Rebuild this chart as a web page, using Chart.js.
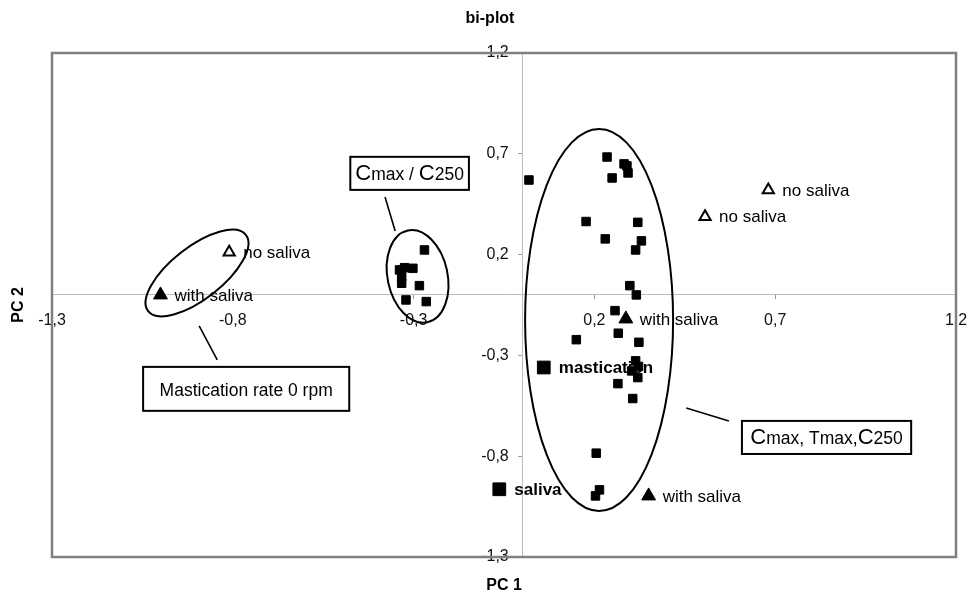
<!DOCTYPE html>
<html>
<head>
<meta charset="utf-8">
<title>bi-plot</title>
<script src="https://cdn.jsdelivr.net/npm/chart.js@4.4.1/dist/chart.umd.min.js"></script>
<style>
  html, body { margin: 0; padding: 0; background: #fff; }
  #wrap { position: relative; width: 969px; height: 596px; }
</style>
</head>
<body>
<div id="wrap"><canvas id="biplot"></canvas></div>
<script>
// PCA scores of the individual runs (PC 1, PC 2)
const scoresPC1 = [
  0.019, 0.235, 0.282, 0.290, 0.293, 0.249, 0.177, 0.320, 0.230, 0.330,
  0.314, 0.298, 0.316, 0.257, 0.150, 0.266, 0.323, 0.314, 0.303, 0.320,
  0.322, 0.265, 0.306, 0.205, 0.214, 0.203,
  -0.270, -0.339, -0.325, -0.302, -0.333, -0.333, -0.284, -0.321, -0.265
];
const scoresPC2 = [
  0.570, 0.684, 0.650, 0.640, 0.605, 0.580, 0.364, 0.360, 0.278, 0.268,
  0.223, 0.046, 0.000, -0.078, -0.222, -0.190, -0.235, -0.327, -0.377, -0.410,
  -0.355, -0.440, -0.514, -0.785, -0.967, -0.997,
  0.223, 0.124, 0.135, 0.132, 0.091, 0.058, 0.046, -0.025, -0.033
];

// runs with saliva (filled triangles)
const withSalivaPC1 = [-1.000, 0.287, 0.350];
const withSalivaPC2 = [0.000, -0.119, -0.997];
const withSalivaLabels = ['with saliva', 'with saliva', 'with saliva'];

// runs without saliva (open triangles)
const noSalivaPC1 = [-0.810, 0.506, 0.681];
const noSalivaPC2 = [0.212, 0.388, 0.521];
const noSalivaLabels = ['no saliva', 'no saliva', 'no saliva'];

// loadings of the process variables
const variableNames = ['mastication', 'saliva'];
const variablePC1 = [0.060, -0.063];
const variablePC2 = [-0.360, -0.964];

// axis ticks
const axisMin = -1.3;
const axisMax = 1.2;
const tickStep = 0.5;

const FONT = '"Liberation Sans", Arial, Helvetica, sans-serif';

const pairs = (xs, ys) => xs.map((v, i) => ({ x: v, y: ys[i] }));
const commaDecimal = v => Number(v).toFixed(1).replace('.', ',');

// group outlines: centre in data units, radii in pixels, rotation in degrees
const groupOutlines = [
  { cx: -0.899, cy: 0.109, rx: 62, ry: 26, rot: -38 },
  { cx: -0.289, cy: 0.092, rx: 30, ry: 47, rot: -12 },
  { cx: 0.213, cy: -0.124, rx: 74, ry: 191, rot: 0 }
];

// callout boxes (data units) with their leader lines
const callouts = [
  {
    x1: -1.048, x2: -0.478, y1: -0.357, y2: -0.575,
    line: [-0.893, -0.154, -0.843, -0.322],
    parts: [{ text: 'Mastication rate 0 rpm', size: 17.5 }]
  },
  {
    x1: -0.475, x2: -0.147, y1: 0.685, y2: 0.521,
    line: [-0.379, 0.486, -0.351, 0.317],
    parts: [
      { text: 'C', size: 22 }, { text: 'max / ', size: 17.5 },
      { text: 'C', size: 22 }, { text: '250', size: 17.5 }
    ]
  },
  {
    x1: 0.608, x2: 1.076, y1: -0.625, y2: -0.789,
    line: [0.454, -0.561, 0.572, -0.625],
    parts: [
      { text: 'C', size: 22 }, { text: 'max, ', size: 17.5 },
      { text: 'Tmax,', size: 17.5 }, { text: 'C', size: 22 },
      { text: '250', size: 17.5 }
    ]
  }
];

function drawParts(ctx, parts, cx, baseline) {
  let total = 0;
  parts.forEach(p => {
    ctx.font = p.size + 'px ' + FONT;
    total += ctx.measureText(p.text).width;
  });
  let xx = cx - total / 2;
  ctx.textAlign = 'left';
  ctx.textBaseline = 'alphabetic';
  parts.forEach(p => {
    ctx.font = p.size + 'px ' + FONT;
    ctx.fillText(p.text, xx, baseline);
    xx += ctx.measureText(p.text).width;
  });
}

const biplotDecor = {
  id: 'biplotDecor',
  beforeDatasetsDraw(chart) {
    const { ctx, scales: { x, y } } = chart;
    ctx.save();
    ctx.strokeStyle = '#000';
    ctx.fillStyle = '#000';

    // ellipses round the groups
    ctx.lineWidth = 2;
    groupOutlines.forEach(e => {
      ctx.beginPath();
      ctx.ellipse(x.getPixelForValue(e.cx), y.getPixelForValue(e.cy),
        e.rx, e.ry, e.rot * Math.PI / 180, 0, Math.PI * 2);
      ctx.stroke();
    });

    // callouts
    callouts.forEach(c => {
      ctx.lineWidth = 1.6;
      ctx.beginPath();
      ctx.moveTo(x.getPixelForValue(c.line[0]), y.getPixelForValue(c.line[1]));
      ctx.lineTo(x.getPixelForValue(c.line[2]), y.getPixelForValue(c.line[3]));
      ctx.stroke();

      const left = x.getPixelForValue(c.x1);
      const right = x.getPixelForValue(c.x2);
      const top = y.getPixelForValue(c.y1);
      const bottom = y.getPixelForValue(c.y2);
      ctx.fillStyle = '#fff';
      ctx.fillRect(left, top, right - left, bottom - top);
      ctx.lineWidth = 2;
      ctx.strokeRect(left, top, right - left, bottom - top);
      ctx.fillStyle = '#000';
      drawParts(ctx, c.parts, (left + right) / 2, (top + bottom) / 2 + 7);
    });

    // point labels
    chart.data.datasets.forEach((ds, i) => {
      if (!ds.pointLabels) return;
      const meta = chart.getDatasetMeta(i);
      ctx.font = (ds.labelBold ? 'bold ' : '') + '17px ' + FONT;
      ctx.textAlign = 'left';
      ctx.textBaseline = 'middle';
      meta.data.forEach((pt, j) => {
        ctx.fillText(ds.pointLabels[j], pt.x + ds.labelGap, pt.y + 1);
      });
    });
    ctx.restore();
  },
  afterDraw(chart) {
    const { ctx, chartArea: a } = chart;
    ctx.save();
    // plot frame
    ctx.strokeStyle = '#808080';
    ctx.lineWidth = 2.5;
    ctx.strokeRect(a.left, a.top, a.right - a.left, a.bottom - a.top);

    // titles
    ctx.fillStyle = '#000';
    ctx.font = 'bold 16px ' + FONT;
    ctx.textAlign = 'center';
    ctx.textBaseline = 'middle';
    ctx.fillText('bi-plot', 490, a.top - 34);
    ctx.fillText('PC 1', (a.left + a.right) / 2, a.bottom + 29);
    ctx.translate(a.left - 33, (a.top + a.bottom) / 2);
    ctx.rotate(-Math.PI / 2);
    ctx.fillText('PC 2', 0, 0);
    ctx.restore();
  }
};

const axisCommon = {
  type: 'linear',
  min: axisMin,
  max: axisMax,
  ticks: {
    stepSize: tickStep,
    autoSkip: false,
    maxRotation: 0,
    color: '#111',
    font: { family: FONT, size: 16 }
  },
  grid: { drawOnChartArea: false, tickLength: 4, color: '#999' },
  border: { color: '#bdbdbd', width: 1 }
};

new Chart(document.getElementById('biplot'), {
  type: 'scatter',
  data: {
    datasets: [
      {
        label: 'scores',
        data: pairs(scoresPC1, scoresPC2),
        pointStyle: 'rect',
        pointRadius: 6,
        backgroundColor: '#000',
        borderColor: '#000',
        borderWidth: 1
      },
      {
        label: 'variables',
        data: pairs(variablePC1, variablePC2),
        pointStyle: 'rect',
        pointRadius: 9,
        backgroundColor: '#000',
        borderColor: '#000',
        borderWidth: 1,
        pointLabels: variableNames,
        labelBold: true,
        labelGap: 15
      },
      {
        label: 'with saliva',
        data: pairs(withSalivaPC1, withSalivaPC2),
        pointStyle: 'triangle',
        pointRadius: 8,
        backgroundColor: '#000',
        borderColor: '#000',
        borderWidth: 1,
        pointLabels: withSalivaLabels,
        labelGap: 14
      },
      {
        label: 'no saliva',
        data: pairs(noSalivaPC1, noSalivaPC2),
        pointStyle: 'triangle',
        pointRadius: 6.5,
        backgroundColor: '#fff',
        borderColor: '#000',
        borderWidth: 2,
        pointLabels: noSalivaLabels,
        labelGap: 14
      }
    ]
  },
  options: {
    responsive: true,
    maintainAspectRatio: false,
    animation: false,
    layout: { padding: { left: 52, top: 53, right: 13, bottom: 39 } },
    plugins: {
      legend: { display: false },
      title: { display: false },
      tooltip: { enabled: false }
    },
    scales: {
      x: {
        ...axisCommon,
        position: { y: 0 },
        ticks: { ...axisCommon.ticks, padding: 12, callback: commaDecimal },
        // end labels may hang over the frame, don't shrink the plot for them
        afterFit: scale => { scale.paddingLeft = 0; scale.paddingRight = 0; }
      },
      y: {
        ...axisCommon,
        position: { x: 0 },
        // labels of a centred y axis sit on the axis line, keep a gap
        ticks: { ...axisCommon.ticks, callback: v => commaDecimal(v) + '   ' }
      }
    }
  },
  plugins: [biplotDecor]
});
</script>
</body>
</html>
